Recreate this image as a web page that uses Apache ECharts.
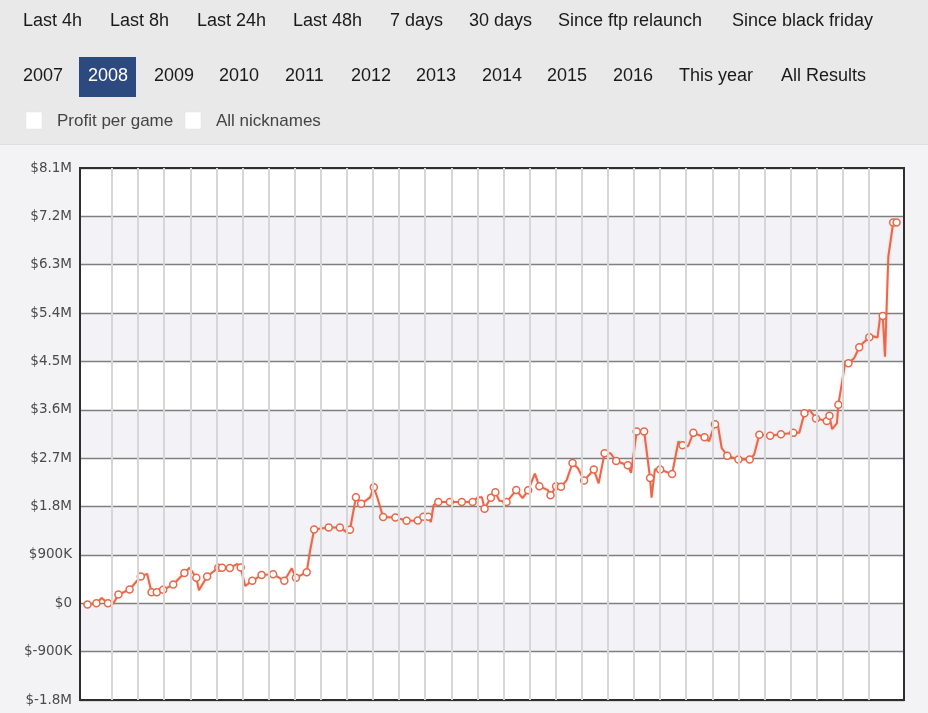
<!DOCTYPE html>
<html>
<head>
<meta charset="utf-8">
<script src="https://cdn.jsdelivr.net/npm/echarts@6/dist/echarts.min.js"></script>
<style>
html,body{margin:0;padding:0;background:#f3f3f5;}
#chart{width:928px;height:713px;}
</style>
</head>
<body>
<div id="chart"></div>
<script>
// ---- data (x = day index, y = cumulative profit in $K) ----
const days = [2.0,4.4,5.8,7.5,8.9,10.3,13.3,16.3,18.0,19.2,20.6,21.2,22.3,25.0,28.0,29.4,31.2,31.9,34.1,37.1,38.1,40.2,42.2,43.1,44.3,46.2,48.7,51.8,54.8,56.8,57.9,60.8,61.6,62.8,66.7,69.7,71.6,72.4,74.0,75.4,76.7,77.8,78.8,79.7,81.3,84.6,87.6,90.6,92.1,93.4,94.1,94.8,96.1,99.2,102.4,105.3,106.7,107.8,108.5,110.2,111.4,112.5,114.4,117.0,118.7,120.2,122.0,123.2,125.4,126.2,127.7,129.0,130.5,132.1,133.6,135.2,137.8,139.1,140.7,142.3,143.8,146.9,147.8,149.3,151.3,151.8,152.9,153.3,154.2,155.6,158.8,160.5,161.6,163.1,164.5,167.5,168.7,170.3,171.0,172.1,173.6,176.6,179.6,180.8,182.2,185.1,188.0,191.3,192.9,194.3,195.7,197.4,200.3,201.0,201.7,203.0,203.4,205.2,206.1,207.6,209.0,210.1,211.7,212.4,213.9,214.6,215.3,215.9,216.8,217.7,218.1,219.0];
const profitK = [-24,0,97,0,-11,162,256,498,548,205,205,261,250,349,563,660,474,241,498,660,660,656,731,666,321,418,526,541,418,651,474,578,936,1374,1412,1412,1319,1369,1971,1850,1915,1971,2158,1977,1604,1598,1537,1542,1608,1608,1511,1822,1884,1884,1884,1884,1971,1971,1761,1966,2065,1906,1884,2107,1956,2102,2413,2176,2111,2009,2176,2167,2288,2611,2507,2283,2488,2232,2792,2792,2648,2568,2428,3198,3198,3230,2329,1966,2494,2488,2406,3010,2941,2922,3171,3090,3016,3333,3351,2889,2745,2674,2674,2764,3137,3118,3146,3171,3171,3538,3594,3439,3394,3491,3240,3346,3696,4465,4465,4558,4763,4849,4950,4974,4946,5334,5347,4588,6453,6889,7087,7087];
const marked = [1,1,0,1,0,1,1,1,0,1,1,0,1,1,1,0,1,0,1,1,1,1,0,1,0,1,1,1,1,0,1,1,0,1,1,1,0,1,1,1,0,0,1,0,1,1,1,1,1,1,0,0,1,1,1,1,0,0,1,1,1,0,1,1,0,1,0,1,0,1,1,1,0,1,0,1,1,0,1,0,1,1,0,1,1,0,1,0,0,1,1,0,1,0,1,1,0,1,0,0,1,1,1,0,1,1,1,1,0,1,0,1,1,1,0,0,1,0,1,0,1,0,1,0,0,0,1,0,0,0,1,1];
const yTicksK = {min:-1800, max:8100, step:900};
const row1Labels = ["Last 4h","Last 8h","Last 24h","Last 48h","7 days","30 days","Since ftp relaunch","Since black friday"];
const row2Labels = ["2007","2008","2009","2010","2011","2012","2013","2014","2015","2016","This year","All Results"];
const selectedLabel = "2008";
const optionLabels = ["Profit per game","All nicknames"];

// ---- layout ----
const row1X = [23,110,197,293,390,469,558,732];
const row2X = [23,88,154,219,285,351,416,482,547,613,679,781];
const optX = [57,216];
const boxX = [26,185];
const gridDays = [];
for (let k = 0; k < 30; k++) gridDays.push(+(8.58 + 7*k).toFixed(2));

const FONT = '"Liberation Sans", Arial, sans-serif';
const LINE = '#e8684a';

const graphics = [
  {type:'rect', left:0, top:0, z:-10, shape:{width:928, height:144}, style:{fill:'#e9e9e9'}},
  {type:'rect', left:0, top:144, z:-10, shape:{width:928, height:1}, style:{fill:'#dedede'}},
  {type:'rect', left:79, top:57, shape:{width:57, height:40}, style:{fill:'#2c4a80'}}
];
row1Labels.forEach((t,i)=>graphics.push({type:'text', x:row1X[i], y:21,
  style:{text:t, fill:'#1a1a1a', font:'18px '+FONT, verticalAlign:'middle'}}));
row2Labels.forEach((t,i)=>graphics.push({type:'text', x:row2X[i], y:76,
  style:{text:t, fill: t===selectedLabel ? '#ffffff' : '#1a1a1a', font:'18px '+FONT, verticalAlign:'middle'}}));
optionLabels.forEach((t,i)=>{
  graphics.push({type:'rect', x:boxX[i], y:112, shape:{width:16, height:17}, style:{fill:'#ffffff', stroke:'#e0e0e0', lineWidth:0.5}});
  graphics.push({type:'text', x:optX[i], y:121, style:{text:t, fill:'#444', font:'17px '+FONT, verticalAlign:'middle'}});
});

const seriesData = days.map((d,i)=>({
  value:[d, profitK[i]],
  symbol: marked[i] ? 'circle' : 'none'
}));

function fmtK(v){
  if (v === 0) return '$0';
  return Math.abs(v) >= 1000 ? '$' + (v/1000).toFixed(1) + 'M' : '$' + v + 'K';
}

const chart = echarts.init(document.getElementById('chart'), null, {renderer:'canvas'});
chart.setOption({
  animation:false,
  backgroundColor:'#f3f3f5',
  graphic: graphics,
  grid:{left:80, top:168, right:24, bottom:13, show:true, borderColor:'#2e2e2e', borderWidth:2, backgroundColor:'transparent', z:5},
  xAxis:{type:'value', min:0, max:221, axisLabel:{show:false}, axisLine:{show:false}, axisTick:{show:false}, splitLine:{show:false}},
  yAxis:{type:'value', min:yTicksK.min, max:yTicksK.max, interval:yTicksK.step,
    axisLine:{show:false}, axisTick:{show:false},
    axisLabel:{formatter:fmtK, color:'#4a4a4a', fontSize:13.5, fontFamily:'"DejaVu Sans", Verdana, sans-serif', margin:8},
    splitLine:{show:true, lineStyle:{color:'#7f7f7f', width:1.3}},
    splitArea:{show:true, areaStyle:{color:['#ffffff','#f3f2f6']}}
  },
  series:[
    {type:'line', data:[], z:1, silent:true,
      markLine:{silent:true, symbol:['none','none'], label:{show:false},
        lineStyle:{color:'#d6d6d6', width:2, type:'solid'},
        data: gridDays.map(d=>({xAxis:d}))}},
    {type:'line', data:seriesData, z:3, showAllSymbol:true, symbol:'circle', symbolSize:7,
      lineStyle:{color:LINE, width:2, shadowBlur:2, shadowColor:'rgba(232,104,74,0.35)'},
      itemStyle:{color:'#ffffff', borderColor:LINE, borderWidth:1.5}}
  ]
});
</script>
</body>
</html>
